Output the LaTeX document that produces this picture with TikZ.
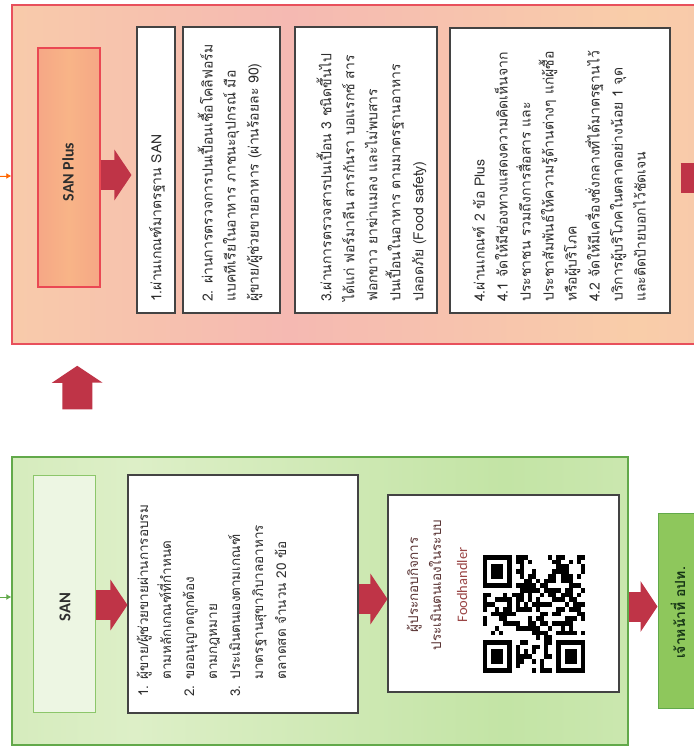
\documentclass[tikz,border=0pt]{standalone}
\usepackage{fontspec}
\setmainfont[Script=Thai]{Loma}
\newfontfamily\latinsans{Carlito}
\usetikzlibrary{arrows.meta,calc}

\definecolor{pinkA}{HTML}{F5B9B2}
\definecolor{peachA}{HTML}{F9CDA9}
\definecolor{plusedge}{HTML}{E8505C}
\definecolor{labA}{HTML}{F39A84}
\definecolor{labB}{HTML}{F8B487}
\definecolor{arrowred}{HTML}{BF3447}
\definecolor{greenA}{HTML}{C3E4A5}
\definecolor{greenB}{HTML}{DDEFC7}
\definecolor{greenedge}{HTML}{62A94A}
\definecolor{sanlab}{HTML}{EDF6E3}
\definecolor{sanlabedge}{HTML}{8CC66A}
\definecolor{officer}{HTML}{8EC75C}
\definecolor{ink}{HTML}{2E2E2E}
\definecolor{qrink}{HTML}{5A3434}
\definecolor{qrtext}{HTML}{9A4545}

\pgfdeclarehorizontalshading{plusbg}{100bp}{color(0bp)=(pinkA); color(22bp)=(peachA); color(45bp)=(pinkA); color(70bp)=(peachA); color(100bp)=(pinkA)}
\pgfdeclarehorizontalshading{pluslab}{100bp}{color(0bp)=(labA); color(50bp)=(labB); color(100bp)=(labA)}
\pgfdeclarehorizontalshading{sanbg}{100bp}{color(0bp)=(greenA); color(35bp)=(greenB); color(65bp)=(greenA); color(100bp)=(greenB)}

\tikzset{
  outerplus/.style={draw=plusedge, line width=1.5pt, shading=plusbg, inner sep=0pt},
  plusl/.style={draw=plusedge!90!red, line width=1.2pt, shading=pluslab, inner sep=0pt},
  outersan/.style={draw=greenedge, line width=1.3pt, shading=sanbg, inner sep=0pt},
  sanl/.style={draw=sanlabedge, line width=1pt, fill=sanlab, inner sep=0pt},
  stepbox/.style={draw=ink!90, line width=1.1pt, fill=white, inner sep=0pt},
  officerbox/.style={draw=greenedge, line width=1pt, fill=officer, inner sep=0pt},
  boxtext/.style={rotate=90, anchor=west, align=left, inner sep=0pt, text=ink,
    font=\fontsize{14}{23}\selectfont},
  blockarr/.style={draw=arrowred, line width=30pt, -{Triangle[length=17pt,width=50pt]}},
  stub/.style={line width=0.8pt, -{Latex[length=5pt,width=6pt]}}
}

\begin{document}
\begin{tikzpicture}[x=1pt, y=-1pt]
\useasboundingbox (0,0) rectangle (693,754);

% ---------- SAN Plus ----------
\node[outerplus, minimum width=693pt, minimum height=339pt] (plus) at (358.5,174.5) {};
\node[plusl, minimum width=62pt, minimum height=239pt] (spl) at (69,167.5) {};
\node[rotate=90, font=\latinsans\bfseries\fontsize{16}{20}\selectfont, text=ink] (spltxt) at (68,172) {SAN Plus};

\node[stepbox, minimum width=38pt, minimum height=286pt] (b1) at (156,170) {};
\node[stepbox, minimum width=97pt, minimum height=286pt] (b2) at (231.5,170) {};
\node[stepbox, minimum width=142pt, minimum height=286pt] (b3) at (366,170) {};
\node[stepbox, minimum width=220pt, minimum height=285pt] (b4) at (560,170.5) {};

\node[boxtext] (t1) at (157,302) {1.ผ่านเกณฑ์มาตรฐาน SAN};
\node[boxtext] (t2) at (230,302) {2. ผ่านการตรวจการปนเปื้อนเชื้อโคลิฟอร์ม\\แบคทีเรียในอาหาร ภาชนะอุปกรณ์ มือ\\ผู้ขาย/ผู้ช่วยขายอาหาร (ผ่านร้อยละ 90)};
\node[boxtext] (t3) at (371.5,302) {3.ผ่านการตรวจสารปนเปื้อน 3 ชนิดขึ้นไป\\ได้แก่ ฟอร์มาลีน สารกันรา บอแรกซ์ สาร\\ฟอกขาว ยาฆ่าแมลง และไม่พบสาร\\ปนเปื้อนในอาหาร ตามมาตรฐานอาหาร\\ปลอดภัย (Food safety)};
\node[boxtext] (t4) at (559,302) {4.ผ่านเกณฑ์ 2 ข้อ Plus\\4.1 จัดให้มีช่องทางแสดงความคิดเห็นจาก\\ประชาชน รวมถึงการสื่อสาร และ\\ประชาสัมพันธ์ให้ความรู้ด้านต่างๆ แก่ผู้ซื้อ\\หรือผู้บริโภค\\4.2 จัดให้มีเครื่องชั่งกลางที่ได้มาตรฐานไว้\\บริการผู้บริโภคในตลาดอย่างน้อย 1 จุด\\และติดป้ายบอกไว้ชัดเจน};

\draw[blockarr, shorten >=5pt] ([yshift=-7.5pt]spl.east) -- ([yshift=-7.5pt]spl.east -| b1.west);
\coordinate (offr) at (720,178);
\draw[blockarr, shorten <=10pt] (b4.east |- offr) -- (offr);

% incoming stub on the left
\coordinate (inP) at (0,176);
\draw[stub, draw=orange!80!red, fill=orange!80!red] (inP) -- (inP -| plus.west);

% ---------- SAN ----------
\node[outersan, minimum width=616pt, minimum height=288pt] (san) at (320,601) {};
\node[sanl, minimum width=62pt, minimum height=237pt] (sl) at (64,593.5) {};
\node[rotate=90, font=\latinsans\bfseries\fontsize{16.5}{20}\selectfont, text=ink] (sltxt) at (65,607) {SAN};

\node[stepbox, minimum width=230pt, minimum height=238pt] (sb) at (243,594) {};
\node[boxtext, font=\fontsize{13.5}{23}\selectfont] (st) at (211.5,697) {1. ผู้ขาย/ผู้ช่วยขายผ่านการอบรม\\\phantom{1. }ตามหลักเกณฑ์ที่กำหนด\\2. ขออนุญาตถูกต้อง\\\phantom{2. }ตามกฎหมาย\\3. ประเมินตนเองตามเกณฑ์\\\phantom{3. }มาตรฐานสุขาภิบาลอาหาร\\\phantom{3. }ตลาดสด จำนวน 20 ข้อ};

\node[stepbox, minimum width=231pt, minimum height=197pt] (qb) at (503.5,593.5) {};
\node[rotate=90, align=center, inner sep=0pt, text=qrink, font=\fontsize{13.5}{23}\selectfont] (qt) at (437,585)
  {ผู้ประกอบกิจการ\\ประเมินตนเองในระบบ\\[3pt]{\latinsans\color{qrtext}\fontsize{14.5}{23}\selectfont Foodhandler}};

\node[officerbox, minimum width=47pt, minimum height=195pt] (off) at (681.5,610.5) {};
\node[rotate=90, inner sep=0pt, font=\bfseries\fontsize{14}{16}\selectfont, text=ink!80!green!60!black] (offtxt) at (678,613) {เจ้าหน้าที่ อปท.};

\draw[blockarr, shorten >=0pt] ([yshift=-11.5pt]sl.east) -- ([yshift=-11.5pt]sl.east -| sb.west);
\draw[blockarr] ([yshift=-5pt]sb.east) -- ([yshift=-5pt]sb.east -| qb.west);
\draw[blockarr] (san.east |- 0,606.5) -- (off.west |- 0,606.5);

\coordinate (inS) at (0,597);
\draw[stub, draw=greenedge, fill=greenedge] (inS) -- (inS -| san.west);

% ---------- upgrade step ----------
\draw[blockarr, shorten <=47pt, shorten >=21pt] ([xshift=66pt]san.north west) -- ([xshift=66pt]plus.south west);

% ---------- QR code ----------
\def\qw{4.08}\def\qh{4.72}
\begin{scope}[shift={(483,555)}]
  \foreach \c in {0,...,24}{
    \foreach \r in {0,...,24}{
      \pgfmathsetmacro\v{frac(abs(sin(\c*127.1+\r*311.7+\c*\r*0.37))*4375.85)}
      \ifdim\v pt>0.48pt
        \fill[black] (\c*\qw,\r*\qh) rectangle ++(\qw,\qh);
      \fi
    }
  }
  \foreach \px/\py in {0/0, 0/17, 17/17}{
    \fill[white] ({(\px-0)*\qw},{(\py-0)*\qh}) rectangle ++({8*\qw},{8*\qh});
  }
  \foreach \px/\py in {0/0, 0/18, 18/18}{
    \fill[black] ({\px*\qw},{\py*\qh}) rectangle ++({7*\qw},{7*\qh});
    \fill[white] ({(\px+1)*\qw},{(\py+1)*\qh}) rectangle ++({5*\qw},{5*\qh});
    \fill[black] ({(\px+2)*\qw},{(\py+2)*\qh}) rectangle ++({3*\qw},{3*\qh});
  }
\end{scope}
\end{tikzpicture}
\end{document}
